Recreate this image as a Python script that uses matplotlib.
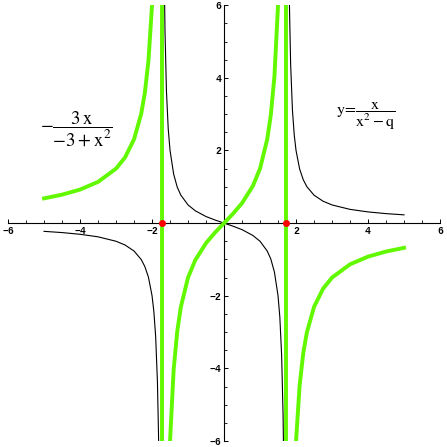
import numpy as np
import matplotlib.pyplot as plt

# values (three branches split by the asymptotes)
x_left = [-5, -4.5, -4, -3.5, -3, -2.75, -2.5, -2.3, -2.2, -2.1, -2.0, -1.95, -1.9, -1.85, -1.82, -1.81]
black_left = [-0.227, -0.261, -0.308, -0.378, -0.5, -0.603, -0.769, -1.004, -1.196, -1.489, -2.0, -2.43,
              -3.115, -4.379, -5.826, -6.556]
green_left = [0.681, 0.783, 0.923, 1.135, 1.5, 1.808, 2.308, 3.013, 3.587, 4.468, 6.0, 7.29,
              9.35, 13.14, 17.48, 19.67]

x_mid = [-1.66, -1.64, -1.6, -1.55, -1.5, -1.4, -1.3, -1.2, -1.0, -0.8, -0.5, -0.25, 0,
         0.25, 0.5, 0.8, 1.0, 1.2, 1.3, 1.4, 1.5, 1.55, 1.6, 1.64, 1.66]
black_mid = [6.79, 5.28, 3.64, 2.59, 2.0, 1.35, 0.99, 0.77, 0.5, 0.34, 0.18, 0.085, 0,
             -0.085, -0.18, -0.34, -0.5, -0.77, -0.99, -1.35, -2.0, -2.59, -3.64, -5.28, -6.79]
green_mid = [-20.4, -15.85, -10.9, -7.78, -6.0, -4.04, -2.98, -2.31, -1.5, -1.02, -0.55, -0.26, 0,
             0.26, 0.55, 1.02, 1.5, 2.31, 2.98, 4.04, 6.0, 7.78, 10.9, 15.85, 20.4]

x_right = [1.81, 1.82, 1.85, 1.9, 1.95, 2.0, 2.1, 2.2, 2.3, 2.5, 2.75, 3, 3.5, 4, 4.5, 5]
black_right = [6.556, 5.826, 4.379, 3.115, 2.43, 2.0, 1.489, 1.196, 1.004, 0.769, 0.603, 0.5,
               0.378, 0.308, 0.261, 0.227]
green_right = [-19.67, -17.48, -13.14, -9.35, -7.29, -6.0, -4.468, -3.587, -3.013, -2.308, -1.808, -1.5,
               -1.135, -0.923, -0.783, -0.681]

asymptotes = [-1.732, 1.732]
tick_vals = [-6, -4, -2, 2, 4, 6]

green = '#62f800'

fig = plt.figure(figsize=(4.47, 4.47), dpi=100)
ax = fig.add_axes([0.018, 0.0134, 0.9664, 0.975])

for xs, ys in [(x_left, black_left), (x_mid, black_mid), (x_right, black_right)]:
    ax.plot(xs, ys, color='black', lw=0.8, zorder=2)
for xs, ys in [(x_left, green_left), (x_mid, green_mid), (x_right, green_right)]:
    ax.plot(xs, ys, color=green, lw=2.8, zorder=3)
for a in asymptotes:
    ax.plot([a, a], [-6, 6], color=green, lw=2.8, zorder=3)
ax.plot(asymptotes, [0, 0], 'o', color='red', ms=4, zorder=4)

ax.set_xlim(-6, 6)
ax.set_ylim(-6, 6)
for s in ['top', 'right']:
    ax.spines[s].set_visible(False)
ax.spines['left'].set_position('zero')
ax.spines['bottom'].set_position('zero')
ax.spines['left'].set_linewidth(0.8)
ax.spines['bottom'].set_linewidth(0.8)

ax.set_xticks(tick_vals)
ax.set_yticks(tick_vals)
ax.set_xticks(np.arange(-6, 6.01, 0.5), minor=True)
ax.set_yticks(np.arange(-6, 6.01, 0.5), minor=True)
ax.tick_params(which='major', direction='in', length=3, width=0.7, labelsize=7, pad=2)
ax.tick_params(which='minor', direction='in', length=2, width=0.6)
for lab in ax.get_xticklabels() + ax.get_yticklabels():
    lab.set_family('Liberation Mono')
    lab.set_weight('bold')

plt.rcParams['mathtext.fontset'] = 'stix'
ax.text(-4.1, 2.6, r'$-\dfrac{3\,\mathrm{x}}{-3+\mathrm{x}^{2}}$', fontsize=13.5,
        ha='center', va='center')
ax.text(3.95, 2.95, r'$\mathrm{y}\!=\!\dfrac{\mathrm{x}}{\mathrm{x}^{2}-\mathrm{q}}$', fontsize=11.5,
        ha='center', va='center')

fig.savefig('out.png', dpi=100)
